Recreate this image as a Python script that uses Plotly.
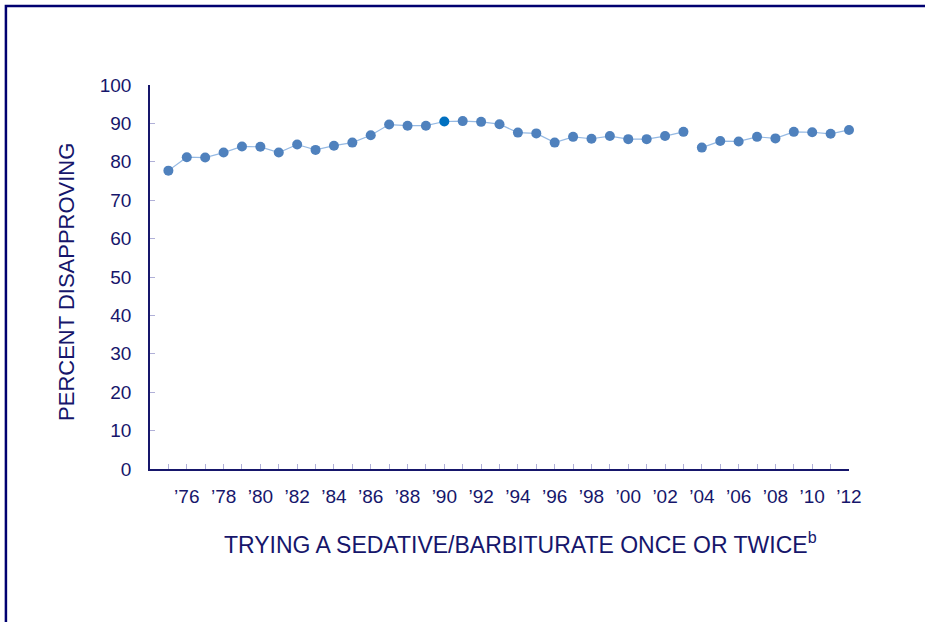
import plotly.graph_objects as go

years = list(range(1975, 2013))
pct_disapproving = [77.7, 81.2, 81.1, 82.4, 84.0, 83.9, 82.4, 84.5, 83.1, 84.2,
                    85.0, 86.9, 89.7, 89.4, 89.4, 90.5, 90.6, 90.4, 89.8, 87.6,
                    87.4, 85.0, 86.5, 86.0, 86.7, 85.9, 85.9, 86.7, 87.8,
                    83.7, 85.4, 85.3, 86.5, 86.1, 87.8, 87.7, 87.3, 88.3]
break_after_year = 2003          # question wording change: line not connected
highlight_year = 1990
tick_years = list(range(1976, 2013, 2))
tick_labels = ["\u2019" + str(y)[2:] for y in tick_years]
y_ticks = list(range(0, 101, 10))

NAVY = "#16166b"
MARK = "#4f81bd"
LINE = "#95b9e3"
TICK = "#b0b0d8"
FONT = "Liberation Sans, Arial, sans-serif"

split = years.index(break_after_year) + 1
segments = [(years[:split], pct_disapproving[:split]),
            (years[split:], pct_disapproving[split:])]

fig = go.Figure()
for xs, ys in segments:
    colors = ["#0070c0" if x == highlight_year else MARK for x in xs]
    fig.add_trace(go.Scatter(
        x=xs, y=ys, mode="lines+markers",
        line=dict(color=LINE, width=1.2),
        marker=dict(size=10, color=colors, line=dict(width=0)),
        showlegend=False, hoverinfo="x+y", cliponaxis=False))

L, R, T, B = 150, 925 - 848.6, 85, 622 - 469
W, H = 925, 622
pw, ph = W - L - R, H - T - B

def px(xp):
    return (xp - L) / pw

def py(yp):
    return (H - B - yp) / ph

fig.update_layout(
    width=W, height=H,
    margin=dict(l=L, r=R, t=T, b=B, pad=0),
    paper_bgcolor="white", plot_bgcolor="white",
    font=dict(family=FONT, color=NAVY, size=19),
    xaxis=dict(range=[1974, 2012], tickmode="array", tickvals=tick_years,
               ticktext=tick_labels, showgrid=False, zeroline=False,
               showline=True, linecolor=NAVY, linewidth=1.5,
               ticks="inside", ticklen=5, tickcolor=TICK,
               minor=dict(ticks="inside", ticklen=5, tickcolor=TICK,
                          tick0=1975, dtick=1, showgrid=False),
               tickfont=dict(size=19, color=NAVY),
               ticklabelstandoff=9),
    yaxis=dict(range=[0, 100], tickmode="array", tickvals=y_ticks,
               showgrid=False, zeroline=False, showline=True,
               linecolor=NAVY, linewidth=1.5, ticks="inside", ticklen=5,
               tickcolor=TICK, tickfont=dict(size=19, color=NAVY),
               ticklabelstandoff=13),
    annotations=[
        dict(text="TRYING A SEDATIVE/BARBITURATE ONCE OR TWICE<sup>b</sup>",
             xref="paper", yref="paper", x=px(520), y=py(543),
             xanchor="center", yanchor="middle", showarrow=False,
             font=dict(size=23, color=NAVY, family=FONT)),
        dict(text="PERCENT DISAPPROVING", xref="paper", yref="paper",
             x=px(66), y=py(282), textangle=-90, xanchor="center",
             yanchor="middle", showarrow=False,
             font=dict(size=22, color=NAVY, family=FONT)),
    ],
    shapes=[
        dict(type="path", xref="paper", yref="paper",
             path=f"M {px(6)} {py(640)} L {px(6)} {py(6)} L {px(940)} {py(6)}",
             line=dict(color="#000070", width=2.5)),
    ],
)

fig.write_html("out.html", config={"displayModeBar": False},
               post_script="document.body.style.margin='0px';")
